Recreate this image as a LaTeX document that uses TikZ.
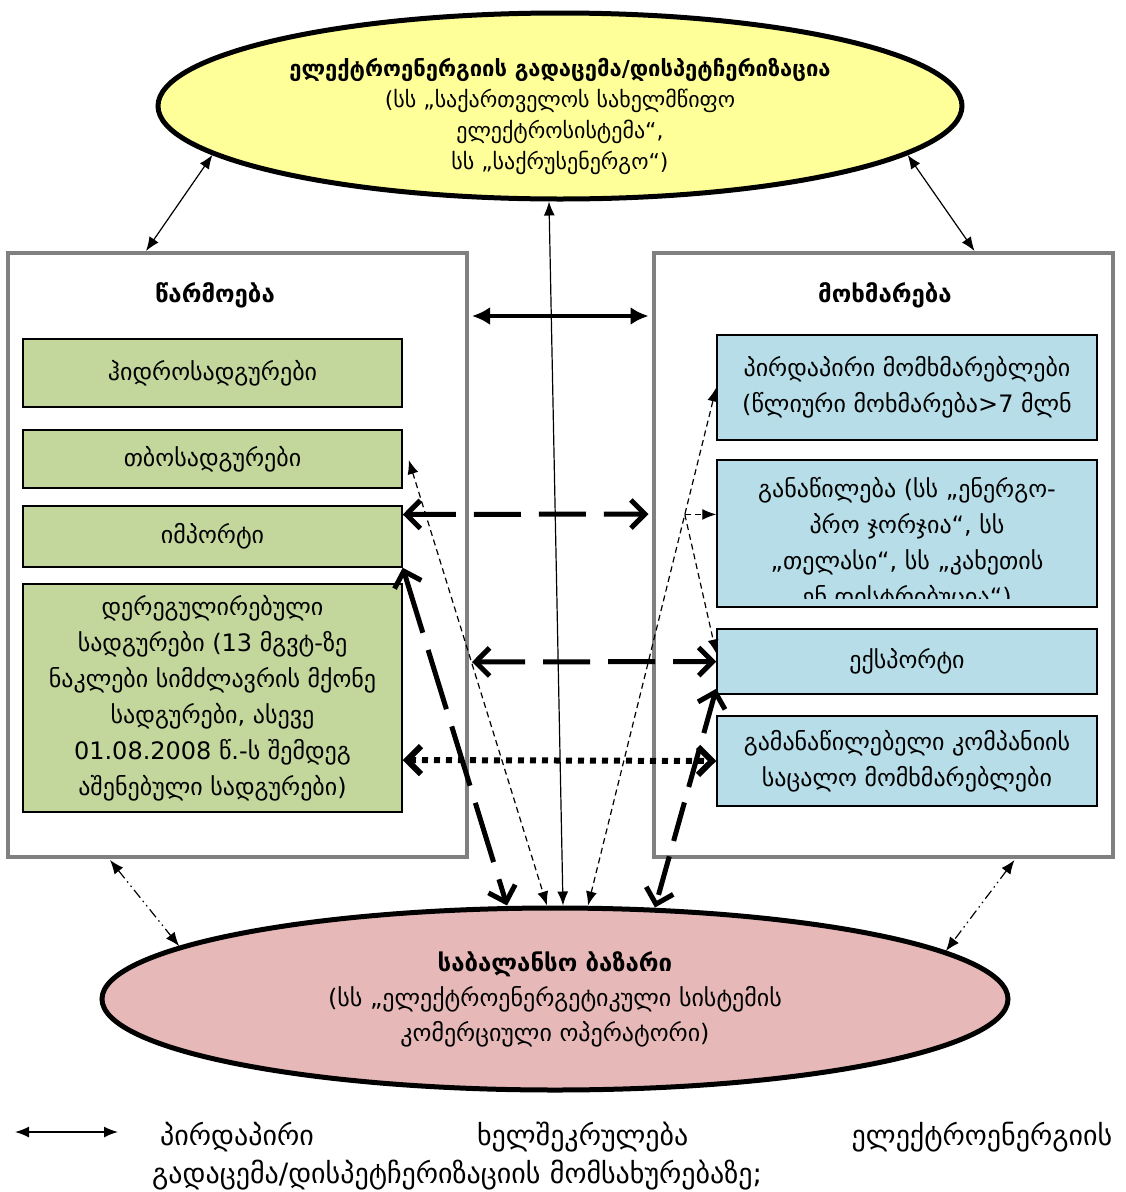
\documentclass[tikz,border=0pt]{standalone}
\usepackage{fontspec}
\setmainfont{DejaVu Sans}
\usetikzlibrary{shapes.geometric,arrows.meta,calc}
\definecolor{transfill}{RGB}{255,255,153}
\definecolor{genfill}{RGB}{195,214,155}
\definecolor{confill}{RGB}{183,222,232}
\definecolor{balfill}{RGB}{230,185,184}
\definecolor{framegray}{RGB}{128,128,128}
\newcommand\boxfont{\fontsize{24}{36}\selectfont}
\newcommand\ttlfont{\fontsize{24}{36}\selectfont\bfseries}
\newcommand\topfont{\fontsize{22}{31}\selectfont}
\newcommand\botfont{\fontsize{24}{35}\selectfont}
\newcommand\legfont{\fontsize{28}{38}\selectfont}
\tikzset{
  lat/.tip={Latex[length=14pt,width=11pt]},
  barb/.tip={Straight Barb[length=14pt,width=28pt]},
  bigframe/.style={draw=framegray, line width=4pt, minimum width=459pt, minimum height=604pt, inner sep=0pt},
  genbox/.style={draw, line width=1.5pt, fill=genfill, minimum width=379pt, inner sep=0pt, align=center, font=\boxfont},
  conbox/.style={genbox, fill=confill, minimum width=380pt},
  oval/.style={ellipse, draw, line width=5pt, inner sep=0pt, align=center},
  thinarr/.style={line width=1.2pt, lat-lat},
  thickarr/.style={line width=4pt, {Latex[length=18pt,width=18pt]}-{Latex[length=18pt,width=18pt]}},
  thickdash/.style={line width=5pt, dash pattern=on 47pt off 18pt, barb-barb},
  longdash/.style={line width=5pt, dash pattern=on 62pt off 18pt, barb-barb},
  middash/.style={line width=5pt, dash pattern=on 40pt off 16pt, barb-barb},
  thickdot/.style={line width=6pt, dash pattern=on 6pt off 6pt, barb-barb},
  thindash/.style={line width=1.2pt, dash pattern=on 6pt off 4pt},
  dashdotdot/.style={line width=1.2pt, dash pattern=on 10pt off 4pt on 1.5pt off 4pt on 1.5pt off 4pt, lat-lat}
}
\begin{document}
\begin{tikzpicture}[x=1pt,y=-1pt]
\useasboundingbox (0,0) rectangle (1126,1192);
% cadres production / consommation
\node[bigframe] (gen) at (237.5,555) {};
\node[bigframe] (cons) at (883,555) {};
\node[font=\ttlfont] (genttl) at (215,295) {წარმოება};
\node[font=\ttlfont] (consttl) at (885,295) {მოხმარება};
% production
\node[genbox, minimum height=68pt] (hydro) at (212.5,373) {ჰიდროსადგურები};
\node[genbox, minimum height=58pt] (thermal) at (212.5,459) {თბოსადგურები};
\node[genbox, minimum height=61pt] (import) at (212.5,536.5) {იმპორტი};
\node[genbox, minimum height=228pt] (dereg) at (212.5,698) {დერეგულირებული\\სადგურები  (13 მგვტ-ზე\\ნაკლები სიმძლავრის მქონე\\სადგურები, ასევე\\01.08.2008 წ.-ს შემდეგ\\აშენებული სადგურები)};
% consommation
\node[conbox, minimum height=105pt] (direct) at (907,387.5) {პირდაპირი მომხმარებლები\\(წლიური მოხმარება>7 მლნ};
\node[conbox, minimum height=147pt] (distr) at (907,533.5) {};
\begin{scope}
  \clip ($(distr.north west)+(1,1)$) rectangle ($(distr.south east)+(-1,-9)$);
  \node[font=\boxfont, align=center, anchor=north, inner sep=0pt] (distrtxt) at ($(distr.north)+(0,18)$) {განაწილება (სს ,,ენერგო-\\პრო ჯორჯია“, სს\\,,თელასი“, სს ,,კახეთის\\ენ დისტრიბუცია“)};
\end{scope}
\node[conbox, minimum height=65pt] (export) at (907,661.5) {ექსპორტი};
\node[conbox, minimum height=90pt] (retail) at (907,761) {გამანაწილებელი კომპანიის\\საცალო მომხმარებლები};
% ovales
\node[oval, fill=transfill, minimum width=804pt, minimum height=186pt] (transm) at (560,106) {};
\node[font=\topfont, align=center] (transmtxt) at (560,116) {\textbf{ელექტროენერგიის გადაცემა/დისპეტჩერიზაცია}\\(სს ,,საქართველოს სახელმწიფო\\ელექტროსისტემა“,\\სს ,,საქრუსენერგო“)};
\node[oval, fill=balfill, minimum width=906pt, minimum height=182pt, font=\botfont] (balance) at (555,999) {\textbf{საბალანსო ბაზარი}\\(სს ,,ელექტროენერგეტიკული სისტემის\\კომერციული ოპერატორი)};
% fleches
\draw[thinarr] ($(gen.north west)+(140,0)$) -- (transm.188);
\draw[thinarr] ($(cons.north east)+(-140,0)$) -- (transm.352);
\draw[thinarr] ($(transm.south)+(-11,0)$) -- ($(balance.north)+(8,0)$);
\draw[thickarr] ($(gen.north east)+(3,65)$) -- ($(cons.north west)+(-3,65)$);
\draw[thickdash] ($(import.east)+(0,-22)$) -- ($(cons.west)+(-3,-41)$);
\draw[thickdash] ($(gen.east)+(3,107)$) -- (export.west);
\draw[thickdot] ($(dereg.east)+(0,62)$) -- (retail.west);
\draw[longdash] (import.south east) -- ($(balance.north)+(-48,0)$);
\draw[middash] ($(export.south west)+(0,-6)$) -- ($(balance.north)+(100,2)$);
\draw[thindash, lat-lat] ($(thermal.east)+(6,1)$) -- ($(balance.north)+(-8,0)$);
\draw[thindash, lat-lat] ($(balance.north)+(33,0)$) -- (direct.west) coordinate[pos=0.755] (split);
\draw[thindash, -lat] (split) -- (split -| distr.west);
\draw[thindash, -lat] (split) -- ($(export.west)+(0,-8)$);
\draw[dashdotdot] ($(gen.south west)+(104,1)$) -- (balance.172);
\draw[dashdotdot] ($(cons.south east)+(-100,1)$) -- (balance.7.8);
% legende
\coordinate (lgA) at (15,1132);
\coordinate (lgB) at (118,1132);
\draw[line width=1.5pt, lat-lat] (lgA) -- (lgB);
\node[anchor=west, text width=960pt, align=left, font=\legfont, inner sep=0pt] (legtxt) at (152,1156) {\hspace*{8pt}პირდაპირი\hfill ხელშეკრულება\hfill ელექტროენერგიის\\გადაცემა/დისპეტჩერიზაციის მომსახურებაზე;};
\end{tikzpicture}
\end{document}
